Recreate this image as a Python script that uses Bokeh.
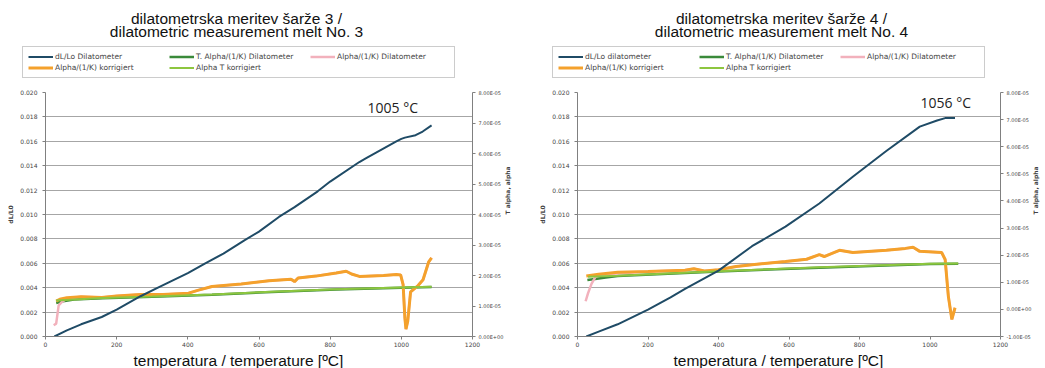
import math
from bokeh.plotting import figure
from bokeh.layouts import row, column
from bokeh.models import (Range1d, LinearAxis, FixedTicker, NumeralTickFormatter,
                          CustomJSTickFormatter, Label, Legend, LegendItem, Title)
from bokeh.embed import file_html
from bokeh.resources import INLINE

# ---------------- data: melt No. 3 ----------------
titles3 = ["dilatometrska meritev šarže 3 /", "dilatometric measurement melt No. 3"]
legend3 = ["dL/Lo Dilatometer", "T. Alpha/(1/K) Dilatometer", "Alpha/(1/K) Dilatometer",
           "Alpha/(1/K) korrigiert", "Alpha T korrigiert"]
note3 = "1005 °C"
note3_pos = (905, 0.0180)

dl3_t = [25, 60, 100, 158, 200, 267, 316, 400, 449, 500, 560, 600, 656, 700,
         765, 800, 882, 900, 986, 1000, 1010, 1040, 1060, 1085]
dl3 = [0.0000, 0.0005, 0.0010, 0.0016, 0.0022, 0.0033, 0.0040, 0.0052, 0.0060,
       0.0068, 0.0079, 0.0086, 0.0098, 0.0106, 0.0119, 0.0127, 0.0143, 0.0146,
       0.0160, 0.0162, 0.0163, 0.0165, 0.0168, 0.0173]

# alpha values in units of 1e-5 1/K
ak3_t = [30, 40, 60, 100, 158, 200, 267, 330, 402, 430, 468, 550, 628, 690, 700,
         710, 760, 817, 845, 860, 882, 950, 986, 998, 1005, 1010, 1013, 1018,
         1026, 1047, 1061, 1077, 1085]
ak3 = [1.16, 1.22, 1.27, 1.30, 1.28, 1.33, 1.38, 1.38, 1.42, 1.52, 1.64, 1.72,
       1.83, 1.88, 1.80, 1.92, 1.98, 2.08, 2.14, 2.05, 1.97, 2.00, 2.03, 2.02,
       1.70, 0.60, 0.24, 0.50, 1.46, 1.67, 1.86, 2.45, 2.58]

ad3_t = [23, 30, 37, 47, 60]
ad3 = [0.37, 0.42, 1.02, 1.14, 1.25]

atk3_t = [30, 160, 300, 468, 600, 817, 1000, 1085]
atk3 = [1.18, 1.26, 1.31, 1.38, 1.45, 1.55, 1.61, 1.63]

atd3_t = [30, 45, 80, 160, 300, 468, 600, 817, 1000, 1085]
atd3 = [1.10, 1.15, 1.21, 1.25, 1.30, 1.37, 1.44, 1.54, 1.60, 1.62]

# ---------------- data: melt No. 4 ----------------
titles4 = ["dilatometrska meritev šarže 4 /", "dilatometric measurement melt No. 4"]
legend4 = ["dL/Lo dilatometer", "T. Alpha/(1/K) Dilatometer", "Alpha/(1/K) Dilatometer",
           "Alpha/(1/K) korrigiert", "Alpha T korrigiert"]
note4 = "1056 °C"
note4_pos = (973, 0.01837)

dl4_t = [25, 60, 114, 200, 264, 305, 400, 495, 590, 686, 781, 876, 971, 1020, 1043, 1071]
dl4 = [0.0000, 0.0004, 0.0010, 0.0022, 0.0032, 0.0039, 0.0054, 0.0074, 0.0090,
       0.0109, 0.0131, 0.0152, 0.0172, 0.0177, 0.0179, 0.0179]

ak4_t = [25, 60, 114, 200, 305, 330, 360, 400, 450, 495, 590, 650, 686, 700, 743,
         781, 876, 930, 952, 971, 1033, 1043, 1052, 1062, 1071]
ak4 = [1.23, 1.30, 1.37, 1.40, 1.44, 1.50, 1.42, 1.46, 1.58, 1.65, 1.77, 1.85,
       2.02, 1.95, 2.18, 2.10, 2.18, 2.25, 2.29, 2.14, 2.10, 1.84, 0.49, -0.37, 0.06]

ad4_t = [23, 30, 40, 51, 60]
ad4 = [0.30, 0.60, 0.95, 1.20, 1.28]

atk4_t = [30, 114, 400, 686, 1000, 1080]
atk4 = [1.20, 1.24, 1.41, 1.55, 1.68, 1.69]

atd4_t = [28, 50, 80, 114, 400, 686, 1000, 1080]
atd4 = [1.08, 1.12, 1.18, 1.23, 1.40, 1.54, 1.67, 1.68]

# ---------------- axes ----------------
x_ticks = [0, 200, 400, 600, 800, 1000, 1200]
y_ticks = [0.000, 0.002, 0.004, 0.006, 0.008, 0.010, 0.012, 0.014, 0.016, 0.018, 0.020]
alpha_ticks3 = [0, 1e-5, 2e-5, 3e-5, 4e-5, 5e-5, 6e-5, 7e-5, 8e-5]
alpha_ticks4 = [-1e-5, 0, 1e-5, 2e-5, 3e-5, 4e-5, 5e-5, 6e-5, 7e-5, 8e-5]
x_title = "temperatura / temperature [ºC]"
y_title = "dL/L0"
y2_title = "T alpha, alpha"

SCALE = 1e-5
HEAD_H = 88

C_BLUE = "#1f4b66"
C_DGREEN = "#3a8a3a"
C_PINK = "#f2b1bc"
C_ORANGE = "#f4a12c"
C_LGREEN = "#8dc63f"

EXP_JS = """
const s = tick.toExponential(2).toUpperCase();
const parts = s.split("E");
const e = parts[1];
const sign = e[0] == "-" ? "-" : "+";
let d = e.replace("+", "").replace("-", "");
if (d.length < 2) d = "0" + d;
return parts[0] + "E" + sign + d;
"""


def style_axis(ax, size):
    ax.axis_line_color = "#808080"
    ax.major_tick_line_color = "#808080"
    ax.minor_tick_line_color = None
    ax.major_tick_in = 0
    ax.major_tick_out = 3
    ax.major_label_text_font = "DejaVu Sans"
    ax.major_label_text_font_size = size
    ax.major_label_text_color = "#444444"


def draw_series(f, series, xr="default", yr="default", yr2="alpha"):
    dlt, dl, akt, ak, adt, ad, atkt, atk, atdt, atd = series
    r_dg = f.line(atdt, [v * SCALE for v in atd], x_range_name=xr, y_range_name=yr2,
                  line_color=C_DGREEN, line_width=2.5)
    r_pk = f.line(adt + akt[3:], [v * SCALE for v in ad + ak[3:]], x_range_name=xr,
                  y_range_name=yr2, line_color=C_PINK, line_width=2.5)
    r_or = f.line(akt, [v * SCALE for v in ak], x_range_name=xr, y_range_name=yr2,
                  line_color=C_ORANGE, line_width=3)
    r_lg = f.line(atkt, [v * SCALE for v in atk], x_range_name=xr, y_range_name=yr2,
                  line_color=C_LGREEN, line_width=2)
    r_bl = f.line(dlt, dl, x_range_name=xr, y_range_name=yr, line_color=C_BLUE, line_width=2)
    return [r_bl, r_dg, r_pk, r_or, r_lg]


def header(width, titles, labels, series, title_cx, legend_x):
    h = figure(width=width, height=HEAD_H, output_backend="svg", toolbar_location=None,
               x_range=Range1d(0, width), y_range=Range1d(0, HEAD_H),
               x_axis_type=None, y_axis_type=None, min_border=0)
    h.grid.visible = False
    h.outline_line_color = None
    # series kept out of the header's view; they only feed the legend glyphs
    h.extra_x_ranges = {"off": Range1d(5000, 6000)}
    h.extra_y_ranges = {"offy": Range1d(0, 0.02), "alpha": Range1d(0, 8e-5)}
    rs = draw_series(h, series, xr="off", yr="offy", yr2="alpha")
    items = [LegendItem(label=lab, renderers=[r]) for lab, r in zip(labels, rs)]
    leg = Legend(items=items, location=(legend_x, 10), orientation="horizontal", ncols=3,
                 label_text_font="DejaVu Sans", label_text_font_size="7.5px",
                 label_height=9, glyph_height=9, glyph_width=25, label_width=112,
                 label_standoff=2, spacing=2, padding=5, margin=0,
                 border_line_color="#9a9a9a", background_fill_color="white")
    h.add_layout(leg)
    h.add_layout(Label(x=title_cx, y=HEAD_H - 26, text=titles[0], text_align="center",
                       text_font="Liberation Sans", text_font_size="15.5px",
                       text_color="#111111"))
    h.add_layout(Label(x=title_cx, y=HEAD_H - 39.5, text=titles[1], text_align="center",
                       text_font="Liberation Sans", text_font_size="15.5px",
                       text_color="#111111"))
    return h


def panel(width, bl, br, note, note_pos, a_range, a_ticks, series, xlab_off):
    p = figure(width=width, height=368 - HEAD_H, output_backend="svg", toolbar_location=None,
               x_range=Range1d(0, 1200), y_range=Range1d(0, 0.020),
               min_border_left=bl, min_border_right=br, min_border_top=4,
               min_border_bottom=30)
    p.outline_line_color = None
    p.background_fill_color = "white"
    p.xgrid.visible = False
    p.ygrid.grid_line_color = "#a6a6a6"
    p.ygrid.grid_line_width = 1
    p.extra_y_ranges = {"alpha": Range1d(*a_range)}

    style_axis(p.xaxis[0], "6px")
    style_axis(p.yaxis[0], "6px")
    p.xaxis[0].ticker = FixedTicker(ticks=x_ticks)
    p.xaxis[0].major_label_standoff = 2
    p.yaxis[0].ticker = FixedTicker(ticks=y_ticks)
    p.yaxis[0].formatter = NumeralTickFormatter(format="0.000")
    p.yaxis[0].major_label_standoff = 5
    p.yaxis[0].axis_label = y_title
    p.yaxis[0].axis_label_text_font = "DejaVu Sans"
    p.yaxis[0].axis_label_text_font_size = "6px"
    p.yaxis[0].axis_label_text_font_style = "bold"
    p.yaxis[0].axis_label_standoff = 3

    ax2 = LinearAxis(y_range_name="alpha", ticker=FixedTicker(ticks=a_ticks),
                     formatter=CustomJSTickFormatter(code=EXP_JS))
    style_axis(ax2, "5px")
    ax2.major_label_standoff = 3
    ax2.axis_label = y2_title
    ax2.axis_label_text_font = "DejaVu Sans"
    ax2.axis_label_text_font_size = "6px"
    ax2.axis_label_text_font_style = "bold"
    ax2.axis_label_standoff = 1
    if "axis_label_orientation" in ax2.properties():
        ax2.axis_label_orientation = math.pi / 2
    p.add_layout(ax2, "right")

    draw_series(p, series)

    p.add_layout(Title(text=x_title, align="left", offset=xlab_off, standoff=0,
                       text_font="Liberation Sans", text_font_size="15.5px",
                       text_font_style="normal", text_color="#111111"), "below")

    p.add_layout(Label(x=note_pos[0], y=note_pos[1], text=note, text_font="Open Sans",
                       text_font_size="14px", text_color="#222222"))
    return p


series3 = (dl3_t, dl3, ak3_t, ak3, ad3_t, ad3, atk3_t, atk3, atd3_t, atd3)
series4 = (dl4_t, dl4, ak4_t, ak4, ad4_t, ad4, atk4_t, atk4, atd4_t, atd4)

h1 = header(522, titles3, legend3, series3, title_cx=236, legend_x=22)
h2 = header(523, titles4, legend4, series4, title_cx=259, legend_x=30)
p1 = panel(522, 45, 50, note3, note3_pos, (0, 8e-5), alpha_ticks3, series3, xlab_off=88)
p2 = panel(523, 55, 45, note4, note4_pos, (-1e-5, 8e-5), alpha_ticks4, series4, xlab_off=96)

layout = column(row(h1, h2), row(p1, p2))
open("out.html", "w").write(file_html(layout, INLINE))
